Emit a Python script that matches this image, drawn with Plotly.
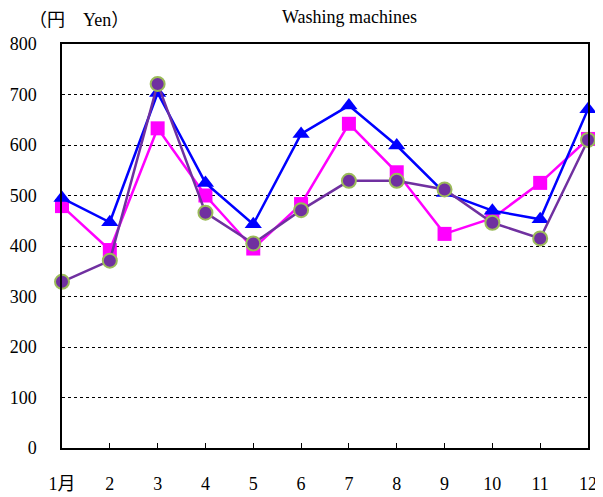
import plotly.graph_objects as go

months = [1, 2, 3, 4, 5, 6, 7, 8, 9, 10, 11, 12]
month_labels = ["1月", "2", "3", "4", "5", "6", "7", "8", "9", "10", "11", "12"]
series_blue = [495, 447, 703, 525, 443, 622, 678, 599, 505, 470, 453, 671]
series_magenta = [479, 392, 633, 500, 395, 483, 642, 546, 424, 455, 525, 612]
series_purple = [329, 371, 721, 466, 405, 471, 529, 529, 512, 446, 415, 610]
y_ticks = [0, 100, 200, 300, 400, 500, 600, 700, 800]

FONT = "'Liberation Serif', 'DejaVu Serif', 'Noto Sans CJK JP', serif"

fig = go.Figure()
fig.add_trace(go.Scatter(
    x=months, y=series_magenta, mode="lines+markers", cliponaxis=False,
    line=dict(color="#FF00FF", width=2.5),
    marker=dict(symbol="square", size=14, color="#FF00FF"),
    showlegend=False))
fig.add_trace(go.Scatter(
    x=months, y=series_blue, mode="lines+markers", cliponaxis=False,
    line=dict(color="#0000FF", width=2.5),
    marker=dict(symbol="triangle-up", size=15, color="#0000FF"),
    showlegend=False))
fig.add_trace(go.Scatter(
    x=months, y=series_purple, mode="lines+markers", cliponaxis=False,
    line=dict(color="#7030A0", width=2.5),
    marker=dict(symbol="circle", size=14, color="#7030A0",
                line=dict(color="#9BBB59", width=2)),
    showlegend=False))

fig.update_layout(
    width=595, height=489,
    margin=dict(l=54, r=15, t=36, b=49),
    plot_bgcolor="white", paper_bgcolor="white",
    font=dict(family=FONT, size=18, color="#000000"),
    xaxis=dict(
        range=[1, 12], tickvals=months, ticktext=month_labels,
        showgrid=False, zeroline=False, automargin=False,
        showline=True, linecolor="black", linewidth=1.5, mirror=True,
        ticks="inside", ticklen=5, tickcolor="black", tickwidth=1,
        ticklabelstandoff=19,
        tickfont=dict(family=FONT, size=18)),
    yaxis=dict(
        range=[0, 800], tickvals=y_ticks, automargin=False,
        showgrid=True, gridcolor="black", gridwidth=1, griddash="dot",
        zeroline=False,
        showline=True, linecolor="black", linewidth=1.5, mirror=True,
        ticks="", ticklabelstandoff=20,
        tickfont=dict(family=FONT, size=18)),
    annotations=[
        dict(text="Washing machines", xref="paper", yref="paper",
             x=0.546, y=1.068, xanchor="center", yanchor="middle",
             showarrow=False, font=dict(family=FONT, size=18)),
        dict(text="（円　Yen）", xref="paper", yref="paper",
             x=-0.0665, y=1.059, xanchor="left", yanchor="middle",
             showarrow=False, font=dict(family=FONT, size=18)),
    ],
)

fig.write_html("out.html")
